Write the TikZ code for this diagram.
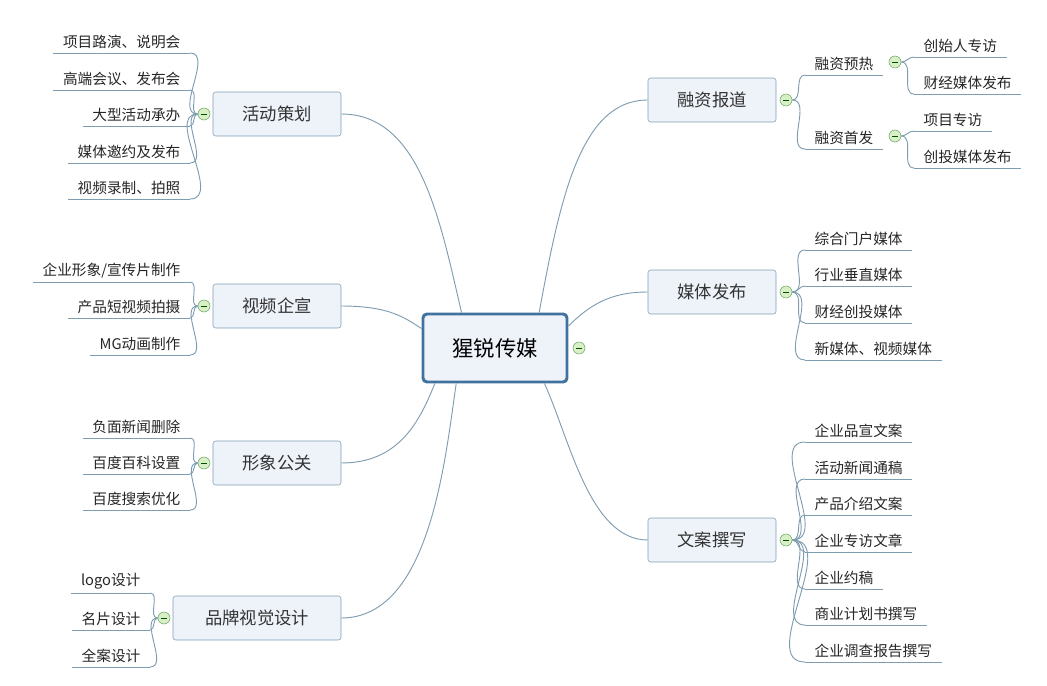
\documentclass[tikz,border=0pt]{standalone}
\usepackage{fontspec}
\newfontfamily\cjk{Noto Sans CJK SC}
\begin{document}
\begin{tikzpicture}[x=0.75pt,y=-0.75pt,
  font=\cjk,
  main/.style={draw=mainc,fill=boxf,rounded corners=2pt,minimum height=33pt,minimum width=96pt,font=\cjk\fontsize{13}{15}\selectfont,text=black!80},
  leaf/.style={inner xsep=7pt,inner ysep=3pt,font=\cjk\fontsize{11}{13}\selectfont,text=black!85},
  col/.style={circle,draw=green!40!black!60,fill=colf,minimum size=9pt,inner sep=0pt,path picture={\draw[green!30!black,line width=0.6pt] ([xshift=-2pt]path picture bounding box.center)--([xshift=2pt]path picture bounding box.center);}},
  ln/.style={draw=linec,line width=0.7pt},
]
\definecolor{mainc}{HTML}{7F9DB5}
\definecolor{boxf}{HTML}{EEF3FA}
\definecolor{linec}{HTML}{7F9DB0}
\definecolor{colf}{HTML}{D9EFC6}
\definecolor{cenc}{HTML}{41729E}
\useasboundingbox (0,0) rectangle (1047,686);

% center
\node[draw=cenc,line width=2.2pt,fill=boxf,rounded corners=3pt,minimum width=108pt,minimum height=51pt,font=\cjk\fontsize{16}{18}\selectfont] (c) at (495,348) {猩锐传媒};
\node[col] (cc) at (579,348) {};

% main nodes
\node[main] (m1) at (277,114) {活动策划};
\node[main] (m2) at (277,306) {视频企宣};
\node[main] (m3) at (277,463) {形象公关};
\node[main,minimum width=126pt] (m4) at (257,618) {品牌视觉设计};
\node[main] (r1) at (712,100) {融资报道};
\node[main] (r2) at (712,292) {媒体发布};
\node[main] (r3) at (712,540) {文案撰写};

\path[ln] (m1.east) .. controls (420,114) and (440,220) .. ([xshift=30pt]c.north west);
\path[ln] (m2.east) .. controls (390,306) and (405,318) .. ([yshift=-12pt]c.north west);
\path[ln] (m3.east) .. controls (400,463) and (420,420) .. ([xshift=10pt]c.south west);
\path[ln] (m4.east) .. controls (430,618) and (445,460) .. ([xshift=26pt]c.south west);
\path[ln] (r1.west) .. controls (580,100) and (560,200) .. ([xshift=-22pt]c.north east);
\path[ln] (r2.west) .. controls (610,292) and (590,305) .. ([yshift=-10pt]c.north east);
\path[ln] (r3.west) .. controls (590,540) and (570,440) .. ([xshift=-18pt]c.south east);

% collapse circles
\node[col] (k1) at (204,114) {};
\node[col] (k2) at (204,306) {};
\node[col] (k3) at (204,463) {};
\node[col] (k4) at (164,618) {};
\node[col] (q1) at (786,100) {};
\node[col] (q2) at (786,292) {};
\node[col] (q3) at (786,540) {};

% left leaves
\foreach \t/\y [count=\i] in {项目路演、说明会/53,高端会议、发布会/90,大型活动承办/126,媒体邀约及发布/163,视频录制、拍照/199}{
  \node[leaf,anchor=south east] (a\i) at (190,\y) {\t};
  \draw[ln] (a\i.south west)--(a\i.south east);
  \draw[ln] (k1.west) to[out=180,in=0] (a\i.south east);}
\foreach \t/\y [count=\i] in {{企业形象/宣传片制作}/282,产品短视频拍摄/318,MG动画制作/355}{
  \node[leaf,anchor=south east] (b\i) at (190,\y) {\t};
  \draw[ln] (b\i.south west)--(b\i.south east);
  \draw[ln] (k2.west) to[out=180,in=0] (b\i.south east);}
\foreach \t/\y [count=\i] in {负面新闻删除/438,百度百科设置/474,百度搜索优化/510}{
  \node[leaf,anchor=south east] (d\i) at (190,\y) {\t};
  \draw[ln] (d\i.south west)--(d\i.south east);
  \draw[ln] (k3.west) to[out=180,in=0] (d\i.south east);}
\foreach \t/\y [count=\i] in {logo设计/593,名片设计/630,全案设计/667}{
  \node[leaf,anchor=south east] (e\i) at (150,\y) {\t};
  \draw[ln] (e\i.south west)--(e\i.south east);
  \draw[ln] (k4.west) to[out=180,in=0] (e\i.south east);}

% right leaves
\node[leaf,anchor=south west] (f1) at (805,75) {融资预热};
\node[leaf,anchor=south west] (f2) at (805,149) {融资首发};
\draw[ln] (f1.south west)--(f1.south east) (f2.south west)--(f2.south east);
\draw[ln] (q1.east) to[out=0,in=180] (f1.south west);
\draw[ln] (q1.east) to[out=0,in=180] (f2.south west);
\node[col] (g1) at (895,62) {};
\node[col] (g2) at (895,136) {};
\foreach \t/\y [count=\i] in {创始人专访/57,财经媒体发布/94}{
  \node[leaf,anchor=south west] (h\i) at (914,\y) {\t};
  \draw[ln] (h\i.south west)--(h\i.south east);
  \draw[ln] (g1.east) to[out=0,in=180] (h\i.south west);}
\foreach \t/\y [count=\i] in {项目专访/131,创投媒体发布/168}{
  \node[leaf,anchor=south west] (p\i) at (914,\y) {\t};
  \draw[ln] (p\i.south west)--(p\i.south east);
  \draw[ln] (g2.east) to[out=0,in=180] (p\i.south west);}
\foreach \t/\y [count=\i] in {综合门户媒体/250,行业垂直媒体/286,财经创投媒体/323,新媒体、视频媒体/360}{
  \node[leaf,anchor=south west] (s\i) at (805,\y) {\t};
  \draw[ln] (s\i.south west)--(s\i.south east);
  \draw[ln] (q2.east) to[out=0,in=180] (s\i.south west);}
\foreach \t/\y [count=\i] in {企业品宣文案/442,活动新闻通稿/479,产品介绍文案/515,企业专访文章/552,企业约稿/589,商业计划书撰写/625,企业调查报告撰写/662}{
  \node[leaf,anchor=south west] (w\i) at (805,\y) {\t};
  \draw[ln] (w\i.south west)--(w\i.south east);
  \draw[ln] (q3.east) to[out=0,in=180] (w\i.south west);}
\end{tikzpicture}
\end{document}
